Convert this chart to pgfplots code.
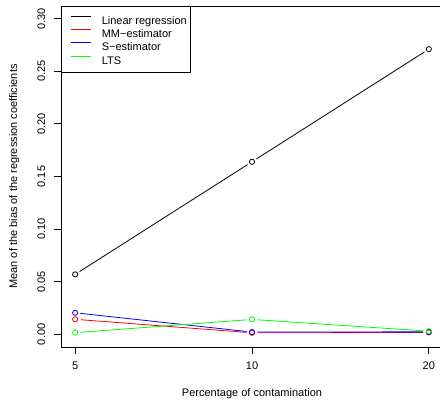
\documentclass[border=0pt]{standalone}
\usepackage{pgfplots}
\pgfplotsset{compat=1.18}
\usepackage{fontspec}
\setmainfont{Liberation Sans}

\newcommand{\rfont}{\fontsize{11bp}{13bp}\selectfont}

\begin{document}
\rfont
\begin{tikzpicture}
\useasboundingbox (0,0) rectangle (440bp,401bp);
\begin{axis}[
    at={(61bp,54bp)}, anchor=south west,
    scale only axis, width=382bp, height=341bp,
    xmin=0.92, xmax=3.08, ymin=-0.012, ymax=0.312,
    xtick={1,2,3}, xticklabels={5,10,20},
    ytick={0,0.05,0.1,0.15,0.2,0.25,0.3},
    xtick pos=lower, ytick pos=left,
    tick align=outside, major tick length=7bp,
    axis line style={line width=0.8bp},
    tick style={line width=0.8bp, black},
    tick label style={font=\rfont},
    label style={font=\rfont},
    /pgf/number format/assume math mode=true,
    yticklabel style={rotate=90, anchor=south,
        /pgf/number format/.cd, fixed, fixed zerofill, precision=2},
    yticklabel shift=5bp, xticklabel shift=4bp,
    xlabel={Percentage of contamination},
    ylabel={Mean of the bias of the regression coefficients},
    xlabel style={at={(axis description cs:0.5,-0.138)}, anchor=center},
    ylabel style={at={(axis description cs:-0.122,0.5)}, anchor=center},
    legend style={at={(0,1)}, anchor=north west, draw=black, line width=0.8bp,
        fill=white, inner xsep=4bp, inner ysep=8bp, row sep=2.8bp, column sep=10bp,
        nodes={inner sep=0pt, text height=10bp, text depth=0.5bp, font=\rfont}},
    legend cell align=left,
    legend image code/.code={\path[draw=none] (0bp,0bp) -- (6bp,0bp);
        \draw[#1] (6bp,3.5bp) -- (26bp,3.5bp);},
    every axis plot/.append style={line width=0.8bp},
]
% lines
\addplot[black, mark=none] coordinates {(1,0.057) (2,0.164) (3,0.271)};
\addlegendentry{Linear regression}
\addplot[red, mark=none] coordinates {(1,0.0143) (2,0.0015) (3,0.0018)};
\addlegendentry{MM−estimator}
\addplot[blue, mark=none] coordinates {(1,0.0205) (2,0.0022) (3,0.0024)};
\addlegendentry{S−estimator}
\addplot[green, mark=none] coordinates {(1,0.0016) (2,0.0142) (3,0.0030)};
\addlegendentry{LTS}

% white gaps round the points
\pgfplotsset{halo/.style={forget plot, only marks, mark=*, mark size=5bp,
    color=white, mark options={draw=white, fill=white}}}
\addplot[halo] coordinates {(1,0.057) (2,0.164) (3,0.271)};
\addplot[halo] coordinates {(1,0.0143) (2,0.0015) (3,0.0018)};
\addplot[halo] coordinates {(1,0.0205) (2,0.0022) (3,0.0024)};
\addplot[halo] coordinates {(1,0.0016) (2,0.0142) (3,0.0030)};

% open circles
\pgfplotsset{pts/.style={forget plot, only marks, mark=o, mark size=2.6bp,
    mark options={line width=0.8bp}}}
\addplot[pts, black] coordinates {(1,0.057) (2,0.164) (3,0.271)};
\addplot[pts, red] coordinates {(1,0.0143) (2,0.0015) (3,0.0018)};
\addplot[pts, blue] coordinates {(1,0.0205) (2,0.0022) (3,0.0024)};
\addplot[pts, green] coordinates {(1,0.0016) (2,0.0142) (3,0.0030)};
\end{axis}
\end{tikzpicture}
\end{document}
